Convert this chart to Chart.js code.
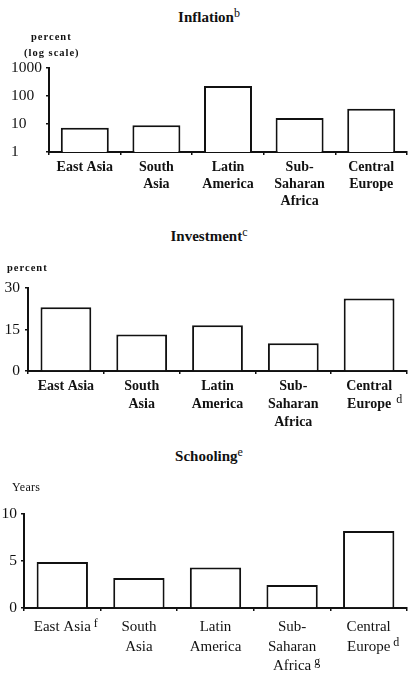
<!DOCTYPE html>
<html><head><meta charset="utf-8">
<script src="https://cdn.jsdelivr.net/npm/chart.js@4.4.1/dist/chart.umd.min.js"></script>
<style>
html,body{margin:0;padding:0;background:#fff;}
body{width:410px;height:685px;position:relative;overflow:hidden;font-family:"Liberation Serif","Times New Roman",serif;color:#111;}
canvas{position:absolute;left:0;}
.t{position:absolute;left:4px;width:410px;text-align:center;font-weight:bold;font-size:15px;line-height:18px;z-index:2;}
.t sup{font-size:12px;font-weight:normal;vertical-align:5px;line-height:0;}
.u{position:absolute;font-size:10.5px;font-weight:bold;letter-spacing:1px;line-height:12px;z-index:2;}
</style></head>
<body>
<div class="t" style="top:8px">Inflation<sup>b</sup></div>
<div class="u" style="top:31px;left:31px">percent</div>
<div class="u" style="top:47px;left:24px">(log scale)</div>
<canvas id="c1" width="410" height="168" style="top:48px"></canvas>

<div class="t" style="top:227px">Investment<sup>c</sup></div>
<div class="u" style="top:262px;left:7px">percent</div>
<canvas id="c2" width="410" height="165" style="top:268px"></canvas>

<div class="t" style="top:447px">Schooling<sup>e</sup></div>
<div class="u" style="top:481px;left:12px;font-size:12px;font-weight:normal;letter-spacing:0.3px">Years</div>
<canvas id="c3" width="410" height="180" style="top:494px"></canvas>

<script>
const categories = ["East Asia", ["South","Asia"], ["Latin","America"], ["Sub-","Saharan","Africa"], ["Central","Europe"]];
const inflation = [7.4, 9, 228, 16.5, 35];
const investment = [23, 13.2, 16.5, 10, 26.2];
const schooling = [4.9, 3.2, 4.3, 2.45, 8.2];
const inflationTicks = [1, 10, 100, 1000];
const investmentTicks = [0, 15, 30];
const schoolingTicks = [0, 5, 10];
const investmentNotes = [{i:4, line:1, text:"d"}];
const schoolingNotes = [{i:0, line:0, text:"f"}, {i:3, line:2, text:"g"}, {i:4, line:1, text:"d"}];

const FAM = '"Liberation Serif","Times New Roman",serif';
const INK = '#111';

const notePlugin = {
  id: 'notes',
  afterDraw(chart, args, opts) {
    const items = opts.items || [];
    if (!items.length) return;
    const sc = chart.scales.x, ctx = chart.ctx;
    const f = opts.labelFont;
    const lh = f.size * f.lineHeight;
    ctx.save();
    items.forEach(n => {
      const lbl = chart.data.labels[n.i];
      const lines = Array.isArray(lbl) ? lbl : [lbl];
      ctx.font = `${f.weight} ${f.size}px ${FAM}`;
      const w = ctx.measureText(lines[n.line]).width;
      const x = sc.getPixelForValue(n.i) + w / 2 + opts.gap;
      const y = sc.top + opts.tl + lh * (n.line + 0.5) + opts.dy;
      ctx.font = `normal ${opts.size}px ${FAM}`;
      ctx.fillStyle = INK;
      ctx.textAlign = 'left';
      ctx.textBaseline = 'middle';
      ctx.fillText(n.text, x, y);
    });
    ctx.restore();
  }
};

function makeChart(id, values, cfg) {
  const labelFont = cfg.labelFont;
  return new Chart(document.getElementById(id), {
    type: 'bar',
    data: {
      labels: categories,
      datasets: [{
        data: values,
        backgroundColor: '#fff',
        borderColor: INK,
        borderWidth: 2,
        barPercentage: 0.67,
        categoryPercentage: 1
      }]
    },
    options: {
      responsive: false,
      animation: false,
      devicePixelRatio: 1,
      layout: { padding: cfg.padding },
      plugins: {
        legend: { display: false },
        tooltip: { enabled: false },
        notes: { items: cfg.notes || [], labelFont: labelFont, tl: cfg.xTick + cfg.xPad, gap: cfg.noteGap, dy: -4, size: 12 }
      },
      scales: {
        x: {
          afterFit: s => { s.height = cfg.xHeight; },
          ticks: { autoSkip: false, maxRotation: 0, minRotation: 0, padding: cfg.xPad, color: INK,
                   font: { family: FAM, size: labelFont.size, weight: labelFont.weight, lineHeight: labelFont.lineHeight } },
          grid: { drawOnChartArea: false, drawTicks: true, tickLength: cfg.xTick, color: INK, lineWidth: 1.5 },
          border: { display: true, color: INK, width: 2 }
        },
        y: Object.assign({
          afterFit: s => { s.width = cfg.yWidth; },
          ticks: { color: INK, font: { family: FAM, size: 15.5 }, padding: cfg.yPad, crossAlign: cfg.yAlign, callback: v => String(v) },
          grid: { drawOnChartArea: false, drawTicks: true, tickLength: 3, color: INK, lineWidth: 1.5 },
          border: { display: true, color: INK, width: 2 }
        }, cfg.y)
      }
    },
    plugins: [notePlugin]
  });
}

makeChart('c1', inflation, {
  padding: { top: 20, bottom: 4, left: 11, right: 3 },
  yWidth: 38, yPad: 4, yAlign: 'far',
  xHeight: 60, xTick: 3, xPad: 3.5,
  labelFont: { size: 14, weight: 'bold', lineHeight: 1.22 },
  noteGap: 4,
  y: {
    type: 'logarithmic', min: 1, max: 1000,
    afterBuildTicks: s => { s.ticks = inflationTicks.map(v => ({ value: v })); }
  }
});

makeChart('c2', investment, {
  padding: { top: 20, bottom: 2, left: 0, right: 3 },
  yWidth: 28, yPad: 5, yAlign: 'near',
  xHeight: 60, xTick: 3, xPad: 3,
  labelFont: { size: 14, weight: 'bold', lineHeight: 1.29 },
  notes: investmentNotes, noteGap: 5,
  y: {
    type: 'linear', min: 0, max: 30,
    afterBuildTicks: s => { s.ticks = investmentTicks.map(v => ({ value: v })); }
  }
});

makeChart('c3', schooling, {
  padding: { top: 20, bottom: 4, left: 0, right: 3 },
  yWidth: 24, yPad: 4, yAlign: 'near',
  xHeight: 62, xTick: 3, xPad: 7,
  labelFont: { size: 15, weight: 'normal', lineHeight: 1.27 },
  notes: schoolingNotes, noteGap: 3,
  y: {
    type: 'linear', min: 0, max: 10,
    afterBuildTicks: s => { s.ticks = schoolingTicks.map(v => ({ value: v })); }
  }
});
</script>
</body></html>
